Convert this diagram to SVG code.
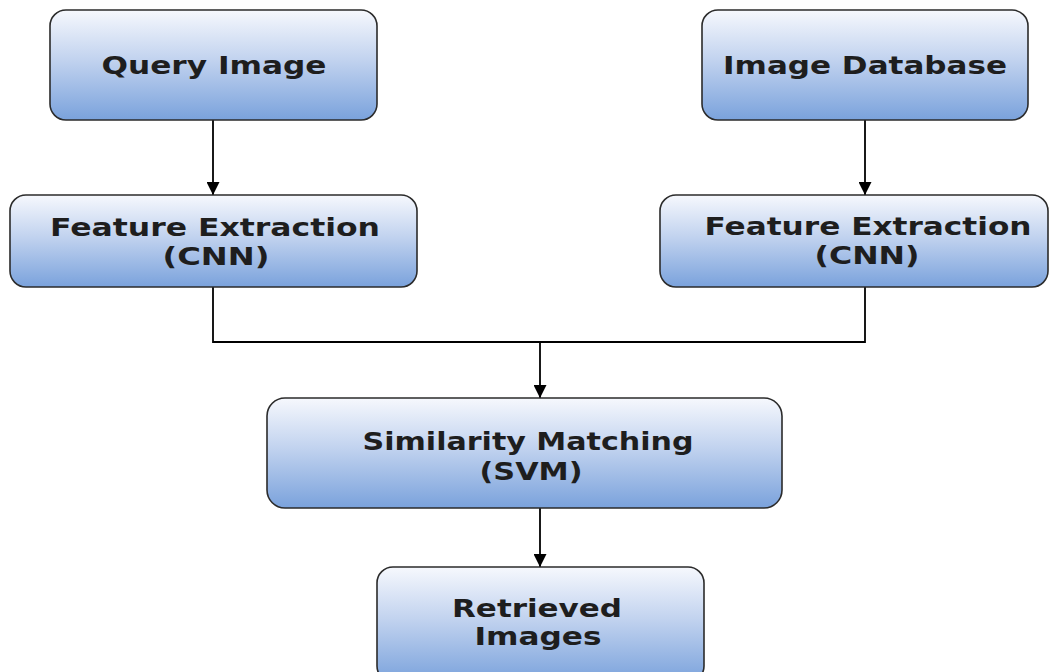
<svg xmlns="http://www.w3.org/2000/svg" width="1060" height="672" viewBox="0 0 1060 672">
<style>
.box{fill:url(#g);stroke:#2b2b2b;stroke-width:1.6}
.t{font-family:"DejaVu Sans",Verdana,sans-serif;font-weight:bold;font-size:24px;fill:#1e1e1e;text-anchor:middle}
.c{fill:none;stroke:#000;stroke-width:1.8}
</style>
<defs>
<linearGradient id="g" x1="0" y1="0" x2="0" y2="1">
<stop offset="0" stop-color="#f6f8fd"/>
<stop offset="0.45" stop-color="#c2d3ef"/>
<stop offset="1" stop-color="#7aa2dc"/>
</linearGradient>
<marker id="a" markerWidth="13" markerHeight="13" refX="13" refY="6.5" orient="auto" markerUnits="userSpaceOnUse">
<path d="M0,0 L13,6.5 L0,13 Z" fill="#000"/>
</marker>
</defs>
<rect width="1060" height="672" fill="#fff"/>
<g id="connectors">
<line class="c" x1="213" y1="120" x2="213" y2="195" marker-end="url(#a)"/>
<line class="c" x1="865" y1="120" x2="865" y2="195" marker-end="url(#a)"/>
<polyline class="c" points="213,287 213,342 865,342 865,287"/>
<line class="c" x1="540" y1="342" x2="540" y2="398" marker-end="url(#a)"/>
<line class="c" x1="540" y1="508" x2="540" y2="567" marker-end="url(#a)"/>
</g>
<g id="query">
<rect class="box" x="50" y="10" width="327" height="110" rx="16"/>
<text class="t" x="214" y="74" textLength="225" lengthAdjust="spacingAndGlyphs">Query Image</text>
</g>
<g id="database">
<rect class="box" x="702" y="10" width="326" height="110" rx="16"/>
<text class="t" x="865" y="74" textLength="284" lengthAdjust="spacingAndGlyphs">Image Database</text>
</g>
<g id="fe-left">
<rect class="box" x="10" y="195" width="407" height="92" rx="16"/>
<text class="t" x="215" y="236" textLength="330" lengthAdjust="spacingAndGlyphs">Feature Extraction</text>
<text class="t" x="216" y="265" textLength="107" lengthAdjust="spacingAndGlyphs">(CNN)</text>
</g>
<g id="fe-right">
<rect class="box" x="660" y="195" width="388" height="92" rx="16"/>
<text class="t" x="868" y="235" textLength="327" lengthAdjust="spacingAndGlyphs">Feature Extraction</text>
<text class="t" x="867" y="264" textLength="105" lengthAdjust="spacingAndGlyphs">(CNN)</text>
</g>
<g id="similarity">
<rect class="box" x="267" y="398" width="515" height="110" rx="18"/>
<text class="t" x="528" y="450" textLength="331" lengthAdjust="spacingAndGlyphs">Similarity Matching</text>
<text class="t" x="531" y="480" textLength="103" lengthAdjust="spacingAndGlyphs">(SVM)</text>
</g>
<g id="retrieved">
<rect class="box" x="377" y="567" width="327" height="115" rx="16"/>
<text class="t" x="537" y="617" textLength="170" lengthAdjust="spacingAndGlyphs">Retrieved</text>
<text class="t" x="538" y="645" textLength="127" lengthAdjust="spacingAndGlyphs">Images</text>
</g>
</svg>
